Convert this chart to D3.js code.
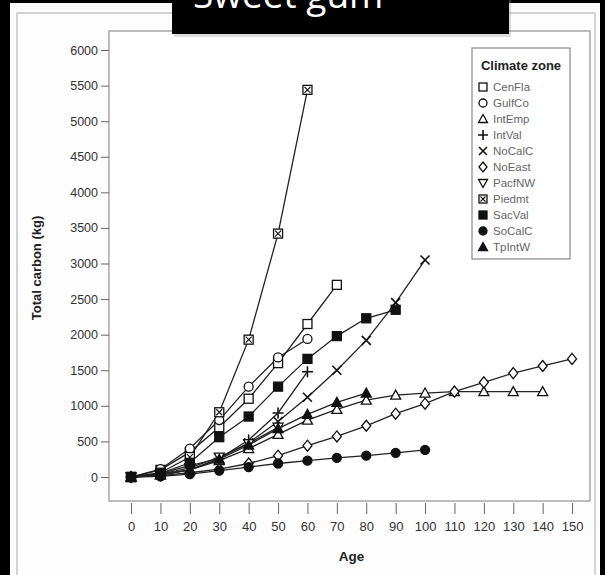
<!DOCTYPE html>
<html><head><meta charset="utf-8">
<script src="https://cdn.jsdelivr.net/npm/d3@7/dist/d3.min.js"></script>
<style>
html,body{margin:0;padding:0;background:#000;}
svg{display:block;}
</style></head>
<body>
<svg id="c" width="605" height="575"></svg>
<script>
const title = "Sweet gum";
const xLabel = "Age";
const yLabel = "Total carbon (kg)";
const legendTitle = "Climate zone";
const ages = [0,10,20,30,40,50,60,70,80,90,100,110,120,130,140,150];
const yTicks = [0,500,1000,1500,2000,2500,3000,3500,4000,4500,5000,5500,6000];
const zones = ["CenFla","GulfCo","IntEmp","IntVal","NoCalC","NoEast","PacfNW","Piedmt","SacVal","SoCalC","TpIntW"];
const cenFla = [0,100,350,700,1100,1600,2150,2700];
const gulfCo = [0,110,400,800,1270,1680,1940];
const intEmp = [0,30,100,230,400,600,800,950,1080,1150,1180,1200,1200,1200,1200];
const intVal = [0,50,160,260,520,900,1480];
const noCalC = [0,30,100,260,480,780,1120,1500,1920,2450,3050];
const noEast = [0,20,60,110,190,300,440,570,720,890,1030,1200,1330,1460,1560,1660];
const pacfNW = [0,40,130,280,470,700];
const piedmt = [0,60,280,910,1930,3420,5440];
const sacVal = [0,50,200,560,850,1270,1660,1980,2230,2350];
const soCalC = [0,10,40,90,140,190,230,270,300,340,380];
const tpIntW = [0,30,100,250,450,680,880,1050,1180];
const seriesValues = [cenFla,gulfCo,intEmp,intVal,noCalC,noEast,pacfNW,piedmt,sacVal,soCalC,tpIntW];
const markerKinds = ["sqOpen","circOpen","triOpen","plus","cross","diamond","triDown","sqX","sqFill","circFill","triFill"];

const svg = d3.select("#c");
svg.append("rect").attr("x",10).attr("y",3).attr("width",590).attr("height",572).attr("fill","#fdfdfd");
svg.append("rect").attr("x",17).attr("y",13).attr("width",578).attr("height",570).attr("fill","none").attr("stroke","#c4c4c4").attr("stroke-width",1.5);

const pL=109, pR=590, pT=31, pB=501;
const x = d3.scaleLinear().domain([-7.5,156.1]).range([pL,pR]);
const y = d3.scaleLinear().domain([-337,6267]).range([pB,pT]);

const font = "'Liberation Sans Narrow','Liberation Sans',Arial,sans-serif";

svg.append("rect").attr("x",pL).attr("y",pT).attr("width",pR-pL).attr("height",pB-pT)
  .attr("fill","#fff").attr("stroke","#9a9a9a").attr("stroke-width",1.3);

const yAxis = svg.append("g").attr("transform",`translate(${pL},0)`)
  .call(d3.axisLeft(y).tickValues(yTicks).tickSize(8).tickPadding(3).tickFormat(d3.format("d")));
yAxis.select(".domain").remove();
yAxis.selectAll("line").attr("stroke","#666");
yAxis.selectAll("text").attr("font-family",font).attr("font-size",12.5).attr("fill","#333");

const xAxis = svg.append("g").attr("transform",`translate(0,503)`)
  .call(d3.axisBottom(x).tickValues(ages).tickSize(11).tickPadding(8).tickFormat(d3.format("d")));
xAxis.select(".domain").remove();
xAxis.selectAll("line").attr("stroke","#666");
xAxis.selectAll("text").attr("font-family",font).attr("font-size",13).attr("fill","#333");

svg.append("text").attr("x",(x(0)+x(150))/2).attr("y",561).attr("text-anchor","middle")
  .attr("font-family",font).attr("font-weight","bold").attr("font-size",13.5).attr("fill","#222").text(xLabel);
svg.append("text").attr("transform",`translate(41,268) rotate(-90)`).attr("text-anchor","middle")
  .attr("font-family",font).attr("font-weight","bold").attr("font-size",13).attr("fill","#222").text(yLabel);

function drawMarker(g, kind, cx, cy, s){
  const h = s/2;
  const sw = 1.3;
  if(kind==="sqOpen"||kind==="sqFill"||kind==="sqX"){
    g.append("rect").attr("x",cx-h).attr("y",cy-h).attr("width",s).attr("height",s)
      .attr("fill",kind==="sqFill"?"#111":"#fff").attr("stroke","#111").attr("stroke-width",sw);
    if(kind==="sqX"){
      g.append("path").attr("d",`M${cx-h+1.5},${cy-h+1.5}L${cx+h-1.5},${cy+h-1.5}M${cx+h-1.5},${cy-h+1.5}L${cx-h+1.5},${cy+h-1.5}`)
        .attr("stroke","#111").attr("stroke-width",1.1);
    }
  } else if(kind==="circOpen"||kind==="circFill"){
    g.append("circle").attr("cx",cx).attr("cy",cy).attr("r",h)
      .attr("fill",kind==="circFill"?"#111":"#fff").attr("stroke","#111").attr("stroke-width",sw);
  } else if(kind==="triOpen"||kind==="triFill"){
    g.append("path").attr("d",`M${cx},${cy-h-0.5}L${cx+h+0.5},${cy+h-0.5}L${cx-h-0.5},${cy+h-0.5}Z`)
      .attr("fill",kind==="triFill"?"#111":"#fff").attr("stroke","#111").attr("stroke-width",sw);
  } else if(kind==="triDown"){
    g.append("path").attr("d",`M${cx},${cy+h+0.5}L${cx+h+0.5},${cy-h+0.5}L${cx-h-0.5},${cy-h+0.5}Z`)
      .attr("fill","#fff").attr("stroke","#111").attr("stroke-width",sw);
  } else if(kind==="diamond"){
    g.append("path").attr("d",`M${cx},${cy-h-1}L${cx+h},${cy}L${cx},${cy+h+1}L${cx-h},${cy}Z`)
      .attr("fill","#fff").attr("stroke","#111").attr("stroke-width",sw);
  } else if(kind==="plus"){
    g.append("path").attr("d",`M${cx-h-1},${cy}L${cx+h+1},${cy}M${cx},${cy-h-1}L${cx},${cy+h+1}`)
      .attr("stroke","#111").attr("stroke-width",1.6);
  } else if(kind==="cross"){
    g.append("path").attr("d",`M${cx-h},${cy-h}L${cx+h},${cy+h}M${cx+h},${cy-h}L${cx-h},${cy+h}`)
      .attr("stroke","#111").attr("stroke-width",1.6);
  }
}

const line = d3.line().x(d=>x(d[0])).y(d=>y(d[1]));
const plot = svg.append("g");
seriesValues.forEach((vals,i)=>{
  const pts = vals.map((v,j)=>[ages[j],v]);
  plot.append("path").datum(pts).attr("d",line).attr("fill","none").attr("stroke","#222").attr("stroke-width",1.3);
});
const markG = svg.append("g");
seriesValues.forEach((vals,i)=>{
  vals.forEach((v,j)=>drawMarker(markG, markerKinds[i], x(ages[j]), y(v), 9));
});

const lg = svg.append("g");
lg.append("rect").attr("x",472).attr("y",48).attr("width",98).attr("height",211)
  .attr("fill","#fff").attr("stroke","#888").attr("stroke-width",1.2);
lg.append("text").attr("x",521).attr("y",70).attr("text-anchor","middle").attr("font-family",font)
  .attr("font-weight","bold").attr("font-size",13).attr("fill","#222").text(legendTitle);
zones.forEach((z,i)=>{
  const cy = 87 + i*16;
  drawMarker(lg, markerKinds[i], 483, cy, 8);
  lg.append("text").attr("x",493).attr("y",cy+4).attr("font-family",font).attr("font-size",11.5)
    .attr("fill","#666").text(z);
});

const tg = svg.append("g");
tg.append("rect").attr("x",174).attr("y",-5).attr("width",337).attr("height",42).attr("fill","#999").attr("opacity",0.35);
tg.append("rect").attr("x",172).attr("y",-5).attr("width",337).attr("height",39).attr("fill","#000");
tg.append("text").attr("x",193).attr("y",8).attr("font-family","'Open Sans',Calibri,sans-serif")
  .attr("font-size",37).attr("fill","#fff").text(title);
</script>
</body></html>
